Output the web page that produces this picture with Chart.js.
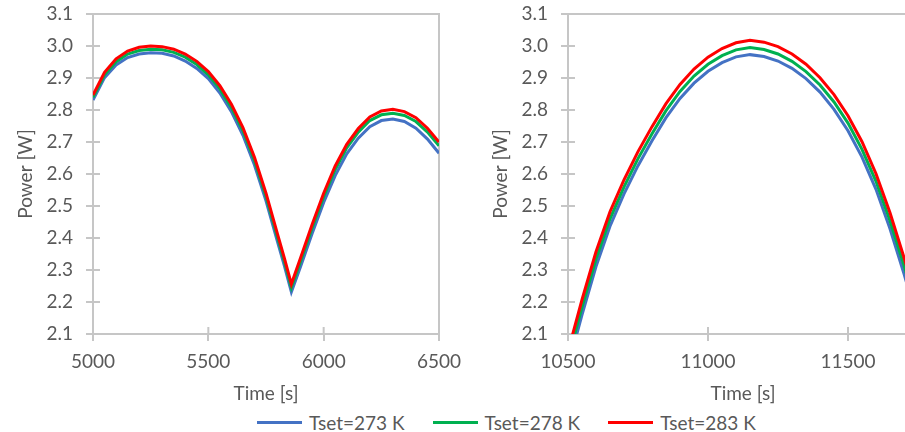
<!DOCTYPE html>
<html>
<head>
<meta charset="utf-8">
<script src="https://cdn.jsdelivr.net/npm/chart.js@4/dist/chart.umd.min.js"></script>
<style>
  html, body { margin: 0; padding: 0; background: #fff; }
  body { width: 905px; height: 432px; overflow: hidden; position: relative; }
  #left { position: absolute; left: 0; top: 0; }
  #right { position: absolute; left: 475px; top: 0; }
  #legend { position: absolute; left: 257px; top: 411px; display: flex; align-items: center;
            font: 19px Lato, sans-serif; color: #595959; white-space: nowrap; }
  #legend .item { display: flex; align-items: center; margin-right: 28px; }
  #legend .swatch { width: 45px; height: 3px; margin-right: 7px; }
</style>
</head>
<body>
<canvas id="left" width="470" height="410"></canvas>
<canvas id="right" width="474" height="410"></canvas>
<div id="legend"></div>
<script>
const seriesLabels = ['Tset=273 K', 'Tset=278 K', 'Tset=283 K'];

// first window, around the eclipse dip
const timeLeft = [5000, 5050, 5100, 5150, 5200, 5250, 5300, 5350, 5400, 5450, 5500,
                  5550, 5600, 5650, 5700, 5750, 5800, 5830, 5860, 5900, 5950, 6000,
                  6050, 6100, 6150, 6200, 6250, 6300, 6350, 6400, 6450, 6500];
const powerLeft273 = [2.831, 2.901, 2.941, 2.964, 2.975, 2.979, 2.977, 2.969, 2.953, 2.930, 2.898,
                      2.853, 2.795, 2.721, 2.628, 2.516, 2.388, 2.312, 2.231, 2.311, 2.414, 2.511,
                      2.595, 2.663, 2.712, 2.748, 2.767, 2.772, 2.764, 2.743, 2.709, 2.665];
const powerLeft278 = [2.840, 2.910, 2.951, 2.975, 2.986, 2.990, 2.988, 2.980, 2.965, 2.942, 2.910,
                      2.866, 2.808, 2.735, 2.642, 2.530, 2.402, 2.326, 2.245, 2.327, 2.431, 2.529,
                      2.614, 2.682, 2.731, 2.767, 2.785, 2.790, 2.783, 2.764, 2.731, 2.688];
const powerLeft283 = [2.847, 2.918, 2.960, 2.984, 2.996, 3.000, 2.998, 2.990, 2.975, 2.952, 2.920,
                      2.876, 2.818, 2.745, 2.652, 2.540, 2.412, 2.336, 2.256, 2.338, 2.442, 2.540,
                      2.625, 2.693, 2.742, 2.778, 2.797, 2.802, 2.795, 2.776, 2.743, 2.700];

// second window, one full arc
const timeRight = [10500, 10550, 10600, 10650, 10700, 10750, 10800, 10850, 10900, 10950,
                   11000, 11050, 11100, 11150, 11200, 11250, 11300, 11350, 11400, 11450,
                   11500, 11550, 11600, 11650, 11700, 11750];
const powerRight273 = [1.998, 2.160, 2.311, 2.437, 2.538, 2.626, 2.704, 2.776, 2.836, 2.884,
                       2.921, 2.948, 2.966, 2.973, 2.967, 2.953, 2.930, 2.898, 2.856, 2.802,
                       2.735, 2.653, 2.552, 2.429, 2.288, 2.137];
const powerRight278 = [2.022, 2.184, 2.334, 2.460, 2.560, 2.648, 2.726, 2.798, 2.858, 2.906,
                       2.943, 2.970, 2.988, 2.995, 2.989, 2.975, 2.952, 2.920, 2.878, 2.825,
                       2.759, 2.677, 2.577, 2.454, 2.314, 2.164];
const powerRight283 = [2.045, 2.207, 2.357, 2.482, 2.582, 2.670, 2.748, 2.820, 2.880, 2.928,
                       2.965, 2.992, 3.010, 3.018, 3.012, 2.998, 2.975, 2.943, 2.901, 2.848,
                       2.782, 2.701, 2.601, 2.479, 2.339, 2.189];

const powerRange = [2.1, 3.1];
const timeRangeLeft = [5000, 6500];
const timeRangeRight = [10500, 11750];
const timeTicksLeft = [5000, 5500, 6000, 6500];
const timeTicksRight = [10500, 11000, 11500];

const colors = ['#4472C4', '#00B050', '#FF0000'];
const axisGrey = '#c6c6c6';

Chart.defaults.font.family = 'Lato, sans-serif';
Chart.defaults.font.size = 19;
Chart.defaults.color = '#595959';

const toPoints = (xs, ys) => xs.map((x, i) => ({ x: x, y: ys[i] }));

// plot-area outline plus the inner half of the cross tick marks
const frame = {
  id: 'frame',
  beforeDatasetsDraw(chart) {
    const { ctx, chartArea: a, scales: { x, y } } = chart;
    ctx.save();
    ctx.strokeStyle = axisGrey;
    ctx.lineWidth = 2;
    ctx.strokeRect(a.left, a.top, a.right - a.left, a.bottom - a.top);
    ctx.beginPath();
    x.ticks.forEach((t, i) => {
      const px = x.getPixelForTick(i);
      ctx.moveTo(px, a.bottom);
      ctx.lineTo(px, a.bottom - 7);
    });
    y.ticks.forEach((t, i) => {
      const py = y.getPixelForTick(i);
      ctx.moveTo(a.left, py);
      ctx.lineTo(a.left + 7, py);
    });
    ctx.stroke();
    ctx.restore();
  }
};

function makeChart(id, times, series, range, tickValues) {
  return new Chart(document.getElementById(id), {
    type: 'line',
    data: {
      datasets: series.map((ys, i) => ({
        label: seriesLabels[i],
        data: toPoints(times, ys),
        borderColor: colors[i],
        borderWidth: 3,
        pointRadius: 0,
        fill: false,
        tension: 0,
        order: series.length - i   // red drawn on top
      }))
    },
    options: {
      responsive: false,
      animation: false,
      layout: { padding: { top: 14, right: 31, bottom: 0, left: 0 } },
      plugins: { legend: { display: false }, tooltip: { enabled: false } },
      scales: {
        x: {
          type: 'linear',
          min: range[0],
          max: range[1],
          afterFit: s => {
            s.height = 76;
            s.paddingLeft = 0;
            s.paddingRight = 0;
          },
          afterBuildTicks: s => { s.ticks = tickValues.map(v => ({ value: v })); },
          ticks: { padding: 9, maxRotation: 0, autoSkip: false, callback: v => String(v) },
          grid: { drawOnChartArea: false, tickLength: 7, color: axisGrey, lineWidth: 2 },
          border: { color: axisGrey, width: 2 },
          title: { display: true, text: 'Time [s]', padding: { top: 0, bottom: 5 } }
        },
        y: {
          min: powerRange[0],
          max: powerRange[1],
          afterFit: s => {
            s.width = 93;
            s.paddingTop = 0;
            s.paddingBottom = 0;
          },
          ticks: { stepSize: 0.1, padding: 13, callback: v => v.toFixed(1) },
          grid: { drawOnChartArea: false, tickLength: 7, color: axisGrey, lineWidth: 2 },
          border: { color: axisGrey, width: 2 },
          title: { display: true, text: 'Power [W]', padding: { top: 14, bottom: 0 } }
        }
      }
    },
    plugins: [frame]
  });
}

makeChart('left', timeLeft, [powerLeft273, powerLeft278, powerLeft283], timeRangeLeft, timeTicksLeft);
makeChart('right', timeRight, [powerRight273, powerRight278, powerRight283], timeRangeRight, timeTicksRight);

// shared legend under both panels
const legend = document.getElementById('legend');
seriesLabels.forEach((label, i) => {
  const item = document.createElement('div');
  item.className = 'item';
  const swatch = document.createElement('span');
  swatch.className = 'swatch';
  swatch.style.background = colors[i];
  const text = document.createElement('span');
  text.textContent = label;
  item.appendChild(swatch);
  item.appendChild(text);
  legend.appendChild(item);
});
</script>
</body>
</html>
